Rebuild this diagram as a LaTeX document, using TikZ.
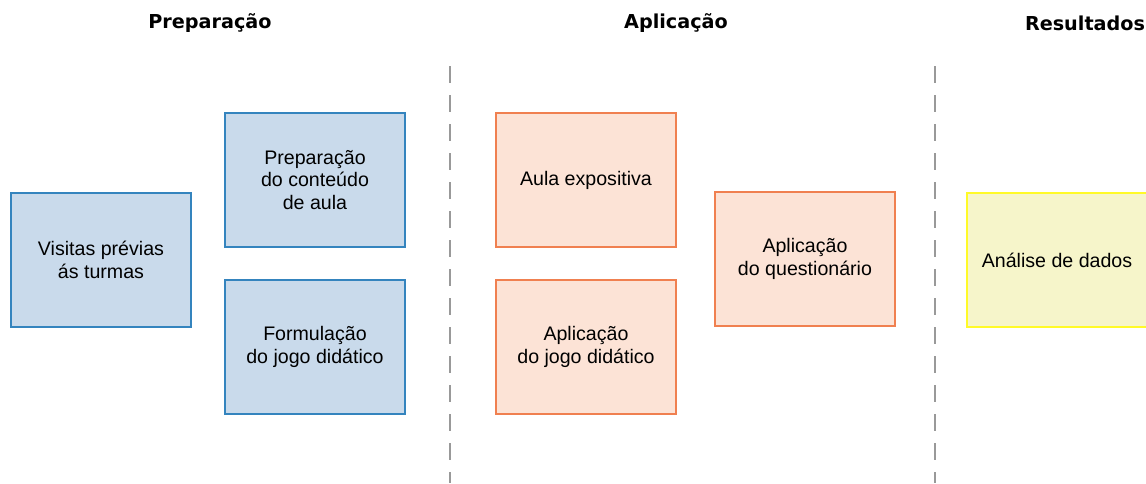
\documentclass[tikz,border=0pt]{standalone}
\usepackage{fontspec}
\setmainfont{Liberation Sans}
\newfontfamily\headfont{DejaVu Sans}
\usepackage{tikz}
\usetikzlibrary{positioning}
\usepackage{xcolor}

\definecolor{bluefill}{RGB}{201,218,235}
\definecolor{blueline}{RGB}{52,132,190}
\definecolor{orangefill}{RGB}{252,227,214}
\definecolor{orangeline}{RGB}{240,128,80}
\definecolor{yellowfill}{RGB}{246,245,202}
\definecolor{yellowline}{RGB}{255,250,40}

\begin{document}
\begin{tikzpicture}[x=1pt,y=-1pt,
  every node/.style={font=\fontsize{19.6}{22.5}\selectfont},
  box/.style={draw,line width=1.5pt,minimum width=180pt,minimum height=134pt,
    inner sep=0pt,align=center},
  prepbox/.style={box,fill=bluefill,draw=blueline},
  aplbox/.style={box,fill=orangefill,draw=orangeline},
  resbox/.style={box,fill=yellowfill,draw=yellowline},
  header/.style={font=\headfont\bfseries\fontsize{19.2}{22}\selectfont},
  divider/.style={gray!80,line width=1.3pt,dash pattern=on 17pt off 12pt}]

  \useasboundingbox (0,0) rectangle (1146,483);
  \clip (0,0) rectangle (1146,483);

  % headers
  \node[header] (hprep) at (210,23) {Preparação};
  \node[header] (hapl) at (676,23) {Aplicação};
  \node[header] (hres) at (1085,23) {Resultados};

  % dividers
  \coordinate (d1top) at (450,66);
  \coordinate (d1bot) at (450,483);
  \coordinate (d2top) at (935,66);
  \coordinate (d2bot) at (935,483);
  \draw[divider] (d1top) -- (d1bot);
  \draw[divider] (d2top) -- (d2bot);

  % preparacao
  \node[prepbox] (visitas) at (101,260) {Visitas prévias\\ ás turmas};
  \node[prepbox] (conteudo) at (315,180) {Preparação\\do conteúdo\\de aula};
  \node[prepbox] (formulacao) at (315,347) {Formulação\\do jogo didático};

  % aplicacao
  \node[aplbox] (aula) at (586,180) {Aula expositiva};
  \node[aplbox] (jogo) at (586,347) {Aplicação\\do jogo didático};
  \node[aplbox] (questionario) at (805,259) {Aplicação\\do questionário};

  % resultados
  \node[resbox] (analise) at (1057,260) {Análise de dados};

\end{tikzpicture}
\end{document}
